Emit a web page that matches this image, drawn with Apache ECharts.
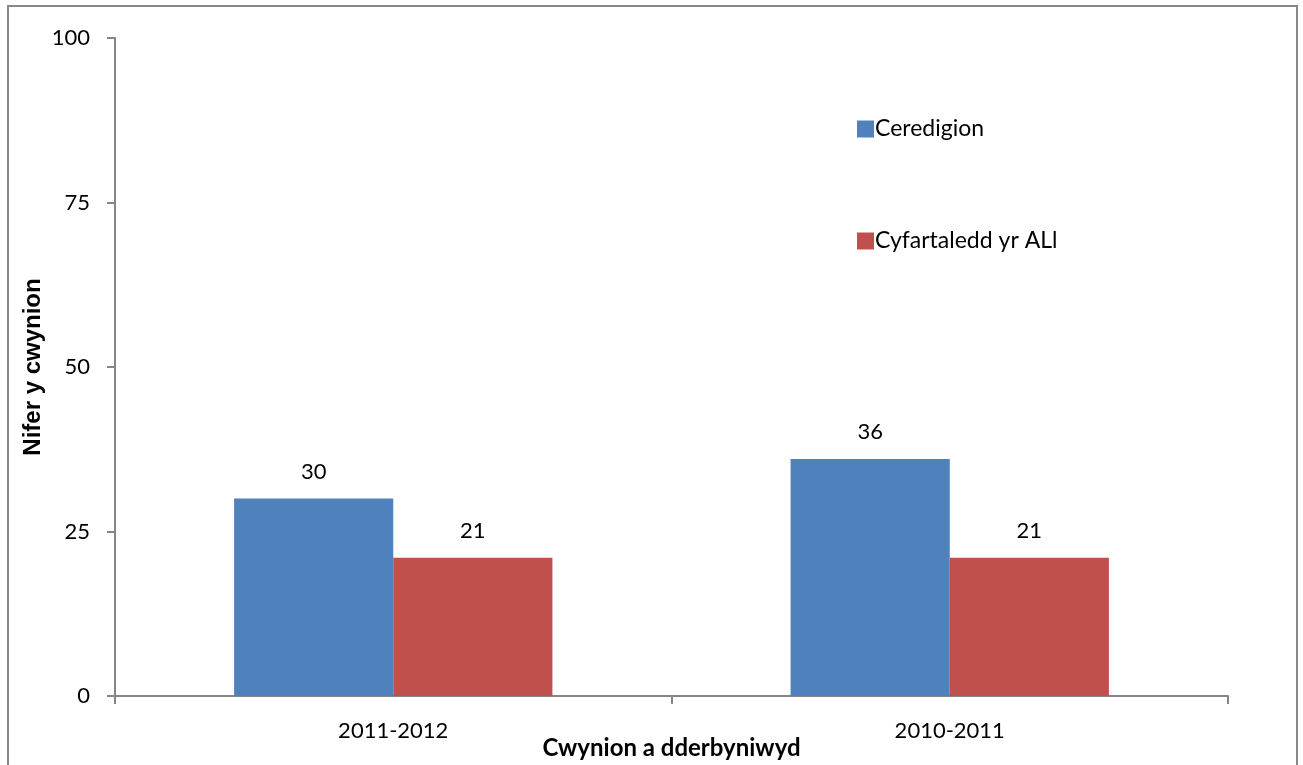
<!DOCTYPE html>
<html>
<head>
<meta charset="utf-8">
<script src="https://cdn.jsdelivr.net/npm/echarts@6/dist/echarts.min.js"></script>
<style>
html,body{margin:0;padding:0;background:#fff;}
#c{width:1303px;height:765px;}
</style>
</head>
<body>
<div id="c"></div>
<script>
const categories = ['2011-2012', '2010-2011'];
const seriesNames = ['Ceredigion', 'Cyfartaledd yr ALl'];
const ceredigion = [30, 36];
const average = [21, 21];
const yTicks = [0, 25, 50, 75, 100];

const font = 'Lato, "Open Sans", sans-serif';
const chart = echarts.init(document.getElementById('c'));
chart.setOption({
  animation: false,
  backgroundColor: '#fff',
  graphic: [{
    type: 'rect', silent: true, z: -1,
    shape: {x: 8, y: 6, width: 1289, height: 820},
    style: {fill: 'none', stroke: '#898989', lineWidth: 2}
  }],
  grid: {left: 115, right: 75, top: 38, bottom: 69, containLabel: false, outerBoundsMode: 'none'},
  legend: {
    orient: 'vertical', left: 852, top: 112, itemGap: 88,
    itemWidth: 17, itemHeight: 17, icon: 'rect',
    textStyle: {fontFamily: font, fontSize: 23, lineHeight: 24, color: '#000', padding: [0, 0, 0, -4]},
    data: seriesNames
  },
  xAxis: {
    type: 'category', data: categories,
    name: 'Cwynion a dderbyniwyd', nameLocation: 'middle', nameGap: 40, nameMoveOverlap: false,
    nameTextStyle: {fontFamily: font, fontSize: 24, fontWeight: 'bold', color: '#000'},
    axisLine: {lineStyle: {color: '#868686', width: 2}},
    axisTick: {show: true, length: 8, lineStyle: {color: '#868686', width: 2}},
    axisLabel: {fontFamily: font, fontSize: 22, color: '#000', margin: 24}
  },
  yAxis: {
    type: 'value', min: 0, max: 100, interval: 25,
    name: 'Nifer y cwynion', nameLocation: 'middle', nameGap: 70, nameRotate: 90, nameMoveOverlap: false,
    nameTextStyle: {fontFamily: '"Liberation Sans", Arial, sans-serif', fontSize: 24, fontWeight: 'bold', color: '#000'},
    axisLine: {show: true, lineStyle: {color: '#868686', width: 2}},
    axisTick: {show: true, length: 8, lineStyle: {color: '#868686', width: 2}},
    splitLine: {show: false},
    axisLabel: {fontFamily: font, fontSize: 22, color: '#000', margin: 25,
      formatter: v => yTicks.includes(v) ? String(v) : ''}
  },
  series: [
    {name: seriesNames[0], type: 'bar', data: ceredigion, barWidth: '28.6%', barGap: '0%',
     itemStyle: {color: '#4F81BD'},
     label: {show: true, position: 'top', distance: 16, fontFamily: font, fontSize: 22, color: '#000'}},
    {name: seriesNames[1], type: 'bar', data: average, barWidth: '28.6%',
     itemStyle: {color: '#C0504D'},
     label: {show: true, position: 'top', distance: 16, fontFamily: font, fontSize: 22, color: '#000'}}
  ]
});
</script>
</body>
</html>
